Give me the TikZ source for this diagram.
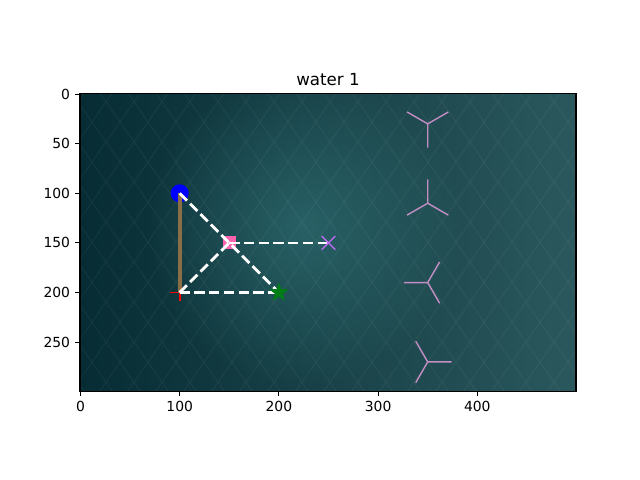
\documentclass[tikz,border=0pt]{standalone}
\usepackage{fontspec}
\setmainfont{DejaVu Sans}
\usetikzlibrary{shapes.geometric,shapes.misc,fadings}
\tikzfading[name=glowfade, inner color=transparent!0, outer color=transparent!100]
\definecolor{bgL}{RGB}{7,44,52}
\definecolor{bgR}{RGB}{42,88,92}
\definecolor{glowc}{RGB}{46,108,112}
\definecolor{brownl}{RGB}{140,110,70}
\definecolor{pinkm}{RGB}{250,100,175}
\definecolor{violetm}{RGB}{185,105,235}
\definecolor{greenm}{RGB}{0,125,20}
\definecolor{trim}{RGB}{196,142,196}
\definecolor{redm}{RGB}{255,0,0}
\tikzset{
  ticklabel/.style={font=\fontsize{10}{12}\selectfont, inner sep=0pt},
  tickline/.style={line width=0.8pt, black},
  bluedot/.style={circle, fill=blue, inner sep=0pt, minimum size=13pt},
  pinksq/.style={rectangle, fill=pinkm, inner sep=0pt, minimum size=9.4pt},
  violetx/.style={cross out, draw=violetm, line width=1.1pt, inner sep=0pt, minimum size=8.6pt},
  greenstar/.style={star, star points=5, star point ratio=2.5, fill=greenm, draw=greenm, inner sep=0pt, minimum size=13.5pt},
  whitedash/.style={white, line width=2pt, dash pattern=on 7.4pt off 3.2pt},
  brownline/.style={brownl, line width=2.6pt},
  redplus/.style={draw=redm, line width=1.3pt},
  triline/.style={trim, line width=1pt},
  lattice/.style={white, opacity=0.055, line width=0.6pt}
}
\begin{document}
\begin{tikzpicture}[x=0.72pt,y=-0.72pt]
\useasboundingbox (0,0) rectangle (640,480);
\fill[white] (0,0) rectangle (640,480);
% background
\begin{scope}
\clip (80,93.6) rectangle (576,391.2);
\shade[left color=bgL, right color=bgR] (80,93.6) rectangle (576,391.2);
\fill[glowc, path fading=glowfade, fill opacity=0.75] (305,228) circle (160);
\foreach \a in {-20,...,25}{
  \draw[lattice] ({34.7+\a*28+94/1.43},94) -- ({34.7+\a*28+392/1.43},392);
  \draw[lattice] ({205.3+\a*28-94/1.43},94) -- ({205.3+\a*28-392/1.43},392);
}
\end{scope}
% data
\begin{scope}[shift={(80.5,94.1)}, x=0.71424pt, y=-0.71424pt]
\coordinate (E) at (100,200);
\coordinate (Dc) at (200,200);
\coordinate (Cc) at (250,150);
\coordinate (Etop) at (100,191.5);
\coordinate (Ebot) at (100,208.5);
\coordinate (Eleft) at (90.5,200);
\coordinate (Eright) at (109.5,200);
\node[bluedot] (A) at (100,100) {};
\draw[redplus] (Eleft) -- (Eright);
\draw[redplus] (Etop) -- (Ebot);
\draw[brownline] (A.center) -- (E);
\node[pinksq] (B) at (150,150) {};
\draw[whitedash] (A.center) -- (Dc);
\draw[whitedash] (E) -- (Dc);
\draw[whitedash] (E) -- (B.center);
\draw[whitedash] (B.center) -- (Cc);
\node[greenstar] (D) at (Dc) {};
\node[violetx] (C) at (Cc) {};
% tri markers
\coordinate (T1) at (350,30);
\coordinate (T2) at (350,110);
\coordinate (T3) at (350,190);
\coordinate (T4) at (350,270);
\draw[triline] (T1) -- ++(0,24) (T1) -- ++(-20.8,-12) (T1) -- ++(20.8,-12);
\draw[triline] (T2) -- ++(0,-24) (T2) -- ++(-20.8,12) (T2) -- ++(20.8,12);
\draw[triline] (T3) -- ++(-24,0) (T3) -- ++(12,-20.8) (T3) -- ++(12,20.8);
\draw[triline] (T4) -- ++(24,0) (T4) -- ++(-12,-20.8) (T4) -- ++(-12,20.8);
\end{scope}
% axes frame
\draw[tickline] (80,93.6) rectangle (576,391.2);
% x ticks
\foreach \v/\p in {0/80.5,100/179.7,200/278.9,300/378.1,400/477.3}{
  \draw[tickline] (\p,391.2) -- (\p,396.1);
  \node[ticklabel, anchor=north] (xt\v) at (\p,401) {\v};
}
% y ticks
\foreach \v/\p in {0/94.1,50/143.7,100/193.3,150/242.9,200/292.5,250/342.1}{
  \draw[tickline] (80,\p) -- (75.1,\p);
  \node[ticklabel, anchor=east] (yt\v) at (70.3,\p) {\v};
}
\node[font=\fontsize{12}{14}\selectfont, inner sep=0pt, anchor=base] (title) at (328,85.3) {water 1};
\end{tikzpicture}
\end{document}
